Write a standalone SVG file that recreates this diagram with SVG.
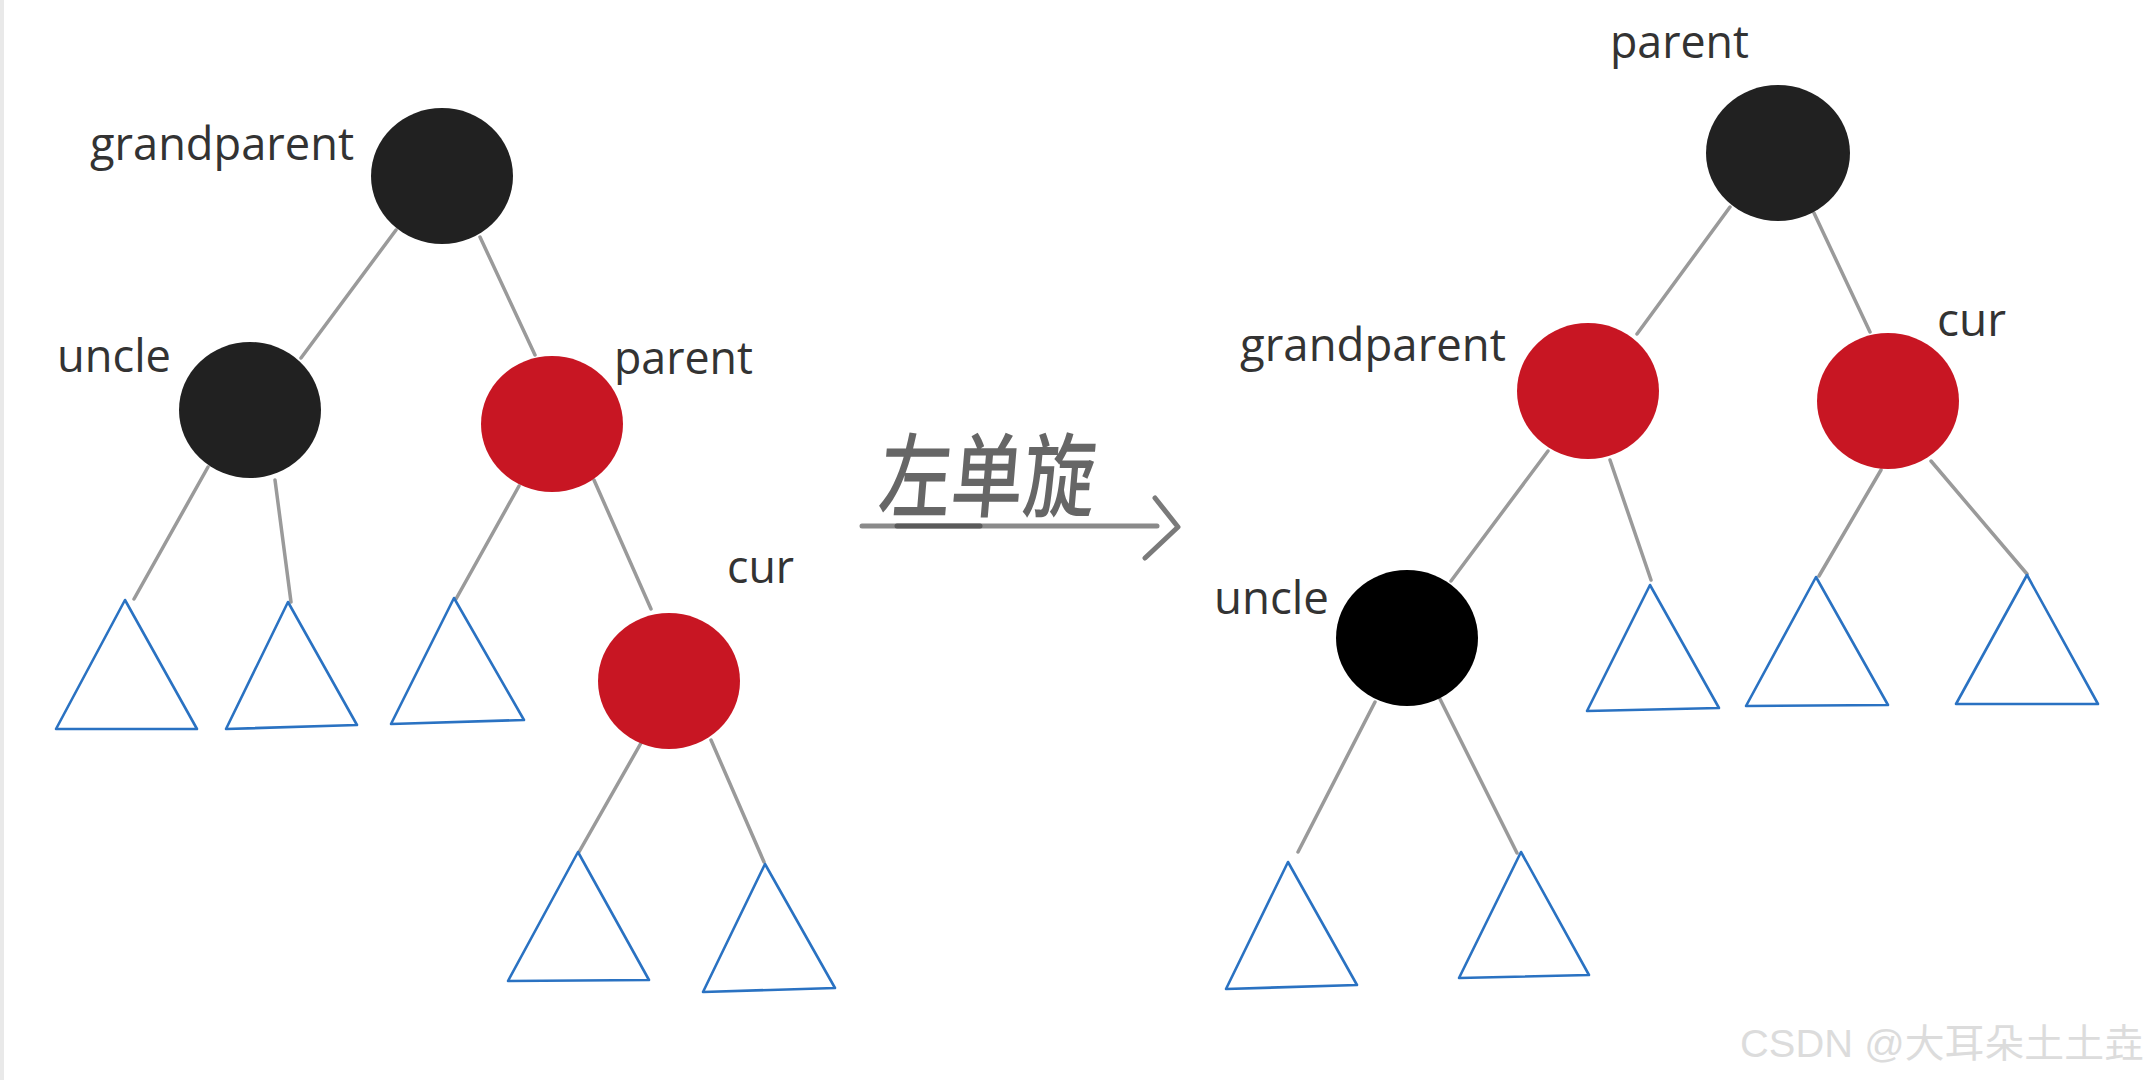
<svg xmlns="http://www.w3.org/2000/svg" width="2149" height="1080" viewBox="0 0 2149 1080">
<style>
.bg{fill:#ffffff}
.edge{stroke:#9a9a9a;stroke-width:3.5;stroke-linecap:round;fill:none}
.blk{fill:#212121}
.blk2{fill:#000000}
.red{fill:#c81623}
.tri{fill:none;stroke:#2a72c2;stroke-width:2.6;stroke-linejoin:round}
.lbl{font-family:"Open Sans","Noto Sans","DejaVu Sans",sans-serif;font-size:45px;fill:#333333}
.hand{font-family:"Noto Sans CJK SC","Noto Sans CJK JP",sans-serif;font-size:92px;font-weight:500;fill:#555555;fill-opacity:0.9}
.wm{font-family:"Liberation Sans","Noto Sans CJK SC",sans-serif;font-size:39px;fill:#dcdcdc}
</style>
<rect class="bg" x="0" y="0" width="2149" height="1080"/>
<rect x="0" y="0" width="4" height="1080" fill="#e9e9e9"/>

<g id="connectors">
  <!-- left tree -->
  <line class="edge" x1="396" y1="230" x2="301" y2="358"/>
  <line class="edge" x1="480" y1="237" x2="535" y2="355"/>
  <line class="edge" x1="208" y1="467" x2="134" y2="599"/>
  <line class="edge" x1="275" y1="480" x2="291" y2="602"/>
  <line class="edge" x1="519" y1="486" x2="456" y2="599"/>
  <line class="edge" x1="594" y1="480" x2="651" y2="609"/>
  <line class="edge" x1="641" y1="743" x2="579" y2="852"/>
  <line class="edge" x1="711" y1="740" x2="764" y2="862"/>
  <!-- right tree -->
  <line class="edge" x1="1730" y1="207" x2="1637" y2="334"/>
  <line class="edge" x1="1814" y1="213" x2="1870" y2="332"/>
  <line class="edge" x1="1548" y1="451" x2="1451" y2="581"/>
  <line class="edge" x1="1610" y1="460" x2="1651" y2="580"/>
  <line class="edge" x1="1881" y1="470" x2="1819" y2="576"/>
  <line class="edge" x1="1931" y1="461" x2="2027" y2="574"/>
  <line class="edge" x1="1375" y1="702" x2="1298" y2="852"/>
  <line class="edge" x1="1440" y1="699" x2="1517" y2="853"/>
</g>

<!-- left tree nodes -->
<g id="L-grandparent">
  <ellipse class="blk" cx="442" cy="176" rx="71" ry="68"/>
  <text class="lbl" x="90" y="160" textLength="264" lengthAdjust="spacingAndGlyphs">grandparent</text>
</g>
<g id="L-uncle">
  <ellipse class="blk" cx="250" cy="410" rx="71" ry="68"/>
  <text class="lbl" x="57" y="372" textLength="114" lengthAdjust="spacingAndGlyphs">uncle</text>
</g>
<g id="L-parent">
  <ellipse class="red" cx="552" cy="424" rx="71" ry="68"/>
  <text class="lbl" x="614" y="374" textLength="139" lengthAdjust="spacingAndGlyphs">parent</text>
</g>
<g id="L-cur">
  <ellipse class="red" cx="669" cy="681" rx="71" ry="68"/>
  <text class="lbl" x="727" y="583" textLength="67" lengthAdjust="spacingAndGlyphs">cur</text>
</g>
<g id="L-sub1"><polygon class="tri" points="125,600 197,729 56,729"/></g>
<g id="L-sub2"><polygon class="tri" points="288,602 357,725 226,729"/></g>
<g id="L-sub3"><polygon class="tri" points="454,598 524,720 391,724"/></g>
<g id="L-sub4"><polygon class="tri" points="578,852 649,980 508,981"/></g>
<g id="L-sub5"><polygon class="tri" points="765,864 835,988 703,992"/></g>

<!-- rotation label and arrow -->
<g id="rotation">
  <text class="hand" x="0" y="0" transform="translate(877,510) scale(0.8,1) skewX(-6)" textLength="270" lengthAdjust="spacingAndGlyphs">左单旋</text>
  <line x1="862" y1="526" x2="1157" y2="526" stroke="#8a8a8a" stroke-width="5" stroke-linecap="round"/>
  <line x1="897" y1="526" x2="980" y2="526" stroke="#5a5a5a" stroke-width="5" stroke-linecap="round"/>
  <polyline points="1155,498 1178,527 1145,558" fill="none" stroke="#7a7a7a" stroke-width="5" stroke-linecap="round" stroke-linejoin="round"/>
</g>

<!-- right tree nodes -->
<g id="R-parent">
  <ellipse class="blk" cx="1778" cy="153" rx="72" ry="68"/>
  <text class="lbl" x="1610" y="58" textLength="139" lengthAdjust="spacingAndGlyphs">parent</text>
</g>
<g id="R-grandparent">
  <ellipse class="red" cx="1588" cy="391" rx="71" ry="68"/>
  <text class="lbl" x="1240" y="361" textLength="266" lengthAdjust="spacingAndGlyphs">grandparent</text>
</g>
<g id="R-cur">
  <ellipse class="red" cx="1888" cy="401" rx="71" ry="68"/>
  <text class="lbl" x="1937" y="336" textLength="69" lengthAdjust="spacingAndGlyphs">cur</text>
</g>
<g id="R-uncle">
  <ellipse class="blk2" cx="1407" cy="638" rx="71" ry="68"/>
  <text class="lbl" x="1214" y="614" textLength="115" lengthAdjust="spacingAndGlyphs">uncle</text>
</g>
<g id="R-sub1"><polygon class="tri" points="1288,862 1357,985 1226,989"/></g>
<g id="R-sub2"><polygon class="tri" points="1521,852 1589,975 1459,978"/></g>
<g id="R-sub3"><polygon class="tri" points="1650,585 1719,708 1587,711"/></g>
<g id="R-sub4"><polygon class="tri" points="1816,577 1888,705 1746,706"/></g>
<g id="R-sub5"><polygon class="tri" points="2027,575 2098,704 1956,704"/></g>

<text class="wm" x="1740" y="1057" textLength="404" lengthAdjust="spacingAndGlyphs">CSDN @大耳朵土土垚</text>
</svg>
